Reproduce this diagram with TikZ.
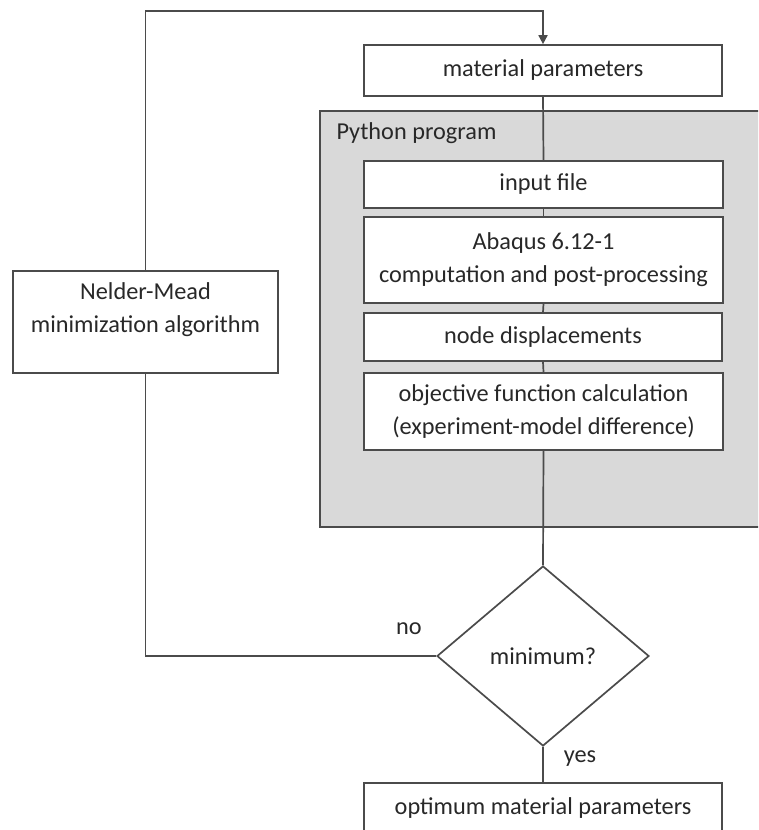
\documentclass[tikz,border=0pt]{standalone}
\usepackage{fontspec}
\setmainfont{Carlito}
\usetikzlibrary{shapes.geometric,arrows.meta}
\definecolor{linec}{RGB}{75,75,75}
\definecolor{txtc}{RGB}{40,40,40}
\definecolor{grayfill}{RGB}{217,217,217}
\begin{document}
\begin{tikzpicture}[x=1pt,y=-1pt,
  txt/.style={text=txtc, font=\fontsize{24.3}{33}\selectfont},
  box/.style={txt, draw=linec, line width=1.7pt, fill=white, rectangle, inner sep=0pt, align=center},
  conn/.style={draw=linec, line width=1.7pt}]
\useasboundingbox (0,0) rectangle (758,830);
\clip (0,0) rectangle (758,830);
% Python program container
\node[draw=linec, line width=1.7pt, fill=grayfill, rectangle, inner sep=0pt,
      minimum width=450pt, minimum height=416pt] (py) at (545,319) {};
\node[txt, anchor=west] (pylabel) at (333,133) {Python program};
% boxes
\node[box, minimum width=358pt, minimum height=51pt] (mat) at (543,70.5) {material parameters};
\node[box, minimum width=359pt, minimum height=47pt] (inp) at (543.5,184.5) {input file};
\node[box, minimum width=359pt, minimum height=86pt] (aba) at (543.5,260) {Abaqus 6.12-1\\computation and post-processing};
\node[box, minimum width=358pt, minimum height=48pt] (nod) at (543,337) {node displacements};
\node[box, minimum width=359pt, minimum height=77pt] (obj) at (543.5,411.5) {objective function calculation\\(experiment-model difference)};
\node[box, minimum width=265pt, minimum height=102pt,
      label={[txt, align=center, anchor=center, yshift=-39pt]north:Nelder-Mead\\minimization algorithm}] (nm) at (145.5,322) {};
\node[txt, draw=linec, line width=1.7pt, fill=white, diamond, inner sep=0pt,
      minimum width=212pt, minimum height=180pt] (dia) at (543,656) {minimum?};
\node[box, anchor=north, minimum width=358pt, minimum height=50pt] (opt) at (543,782) {optimum material parameters};
% labels
\node[txt] (no) at (409,629) {no};
\node[txt] (yes) at (580,759) {yes};
% connectors
\coordinate (topy) at (0,11);
\draw[conn, -{Triangle[width=9pt,length=9pt]}] (nm.north) -- (nm.north |- topy) -| (mat.north);
\draw[conn] (mat.south) -- (inp.north);
\draw[conn] (inp.south) -- (aba.north);
\draw[conn] (aba.south) -- (nod.north);
\draw[conn] (nod.south) -- (obj.north);
\draw[conn] (obj.south) -- (dia.north);
\draw[conn] (dia.west) -| (nm.south);
\draw[conn] (dia.south) -- (opt.north);
\end{tikzpicture}
\end{document}
